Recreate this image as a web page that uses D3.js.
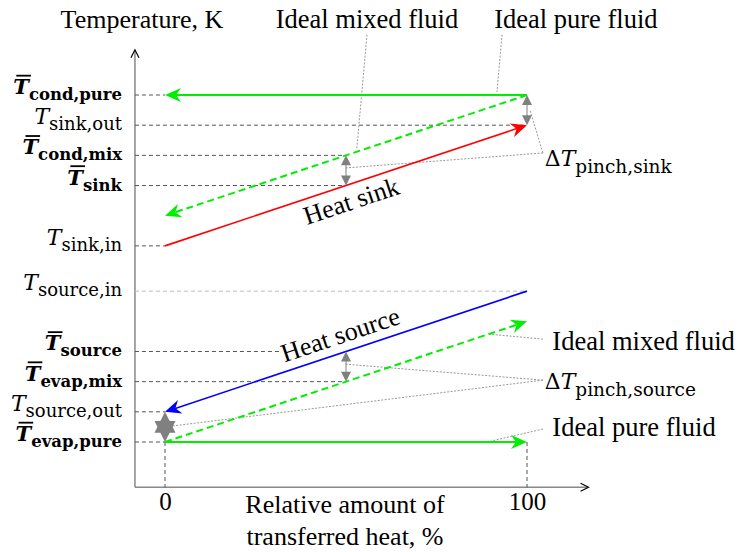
<!DOCTYPE html>
<html>
<head>
<meta charset="utf-8">
<script src="https://cdn.jsdelivr.net/npm/d3@7"></script>
<style>
  body { margin: 0; background: #fff; }
  text { font-family: "Liberation Serif", "Times New Roman", serif; fill: #000; }
  .math { font-family: "DejaVu Serif", serif; }
</style>
</head>
<body>
<div class="chart"></div>
<script>
// temperature levels on the T axis (arbitrary units, sketch only)
const levelSubs = ["cond,pure", "sink,out", "cond,mix", "sink", "sink,in",
                   "source,in", "source", "evap,mix", "source,out", "evap,pure"];
const levelMean = [true, false, true, true, false, false, true, true, false, true];
const levelTemps = [10, 9, 8, 7, 5, 3.5, 1.5, 0.5, -0.5, -1.5];
// how far (heat, %) the dashed guide of each level runs
const guideHeat = [0, 100, 50, 50, 0, 100, 32, 50, 0, 0];

// streams, from start to end (arrow at the end)
const streamNames = ["cond pure", "cond mixed", "Heat sink", "Heat source", "evap mixed", "evap pure"];
const streamHeat0 = [100, 100, 0, 100, 0, 0];
const streamT0 = [10, 10, 5, 3.5, -1.5, -1.5];
const streamHeat1 = [0, 0, 100, 0, 100, 100];
const streamT1 = [10, 6, 9, -0.5, 2.5, -1.5];

// pinch points
const pinchHeat = [50, 100, 50, 0];
const pinchTop = [8, 10, 1.5, -0.5];
const pinchBottom = [7, 9, 0.5, -1.5];

const xTicks = [0, 100];

(function() {
  let svg = d3.select('.chart').append('svg')
    .attr('width', 739)
    .attr('height', 552);

  let x = d3.scaleLinear().domain([0, 100]).range([165, 527]);
  let y = d3.scaleLinear().domain([-1.5, 10]).range([442, 95]);

  let streamStyle = {
    "cond pure":   { color: '#00ee00', width: 2, dash: null },
    "cond mixed":  { color: '#00ee00', width: 2, dash: '7,4' },
    "Heat sink":   { color: '#ff0000', width: 1.6, dash: null },
    "Heat source": { color: '#0000ff', width: 1.6, dash: null },
    "evap mixed":  { color: '#00ee00', width: 2, dash: '7,4' },
    "evap pure":   { color: '#00ee00', width: 2, dash: null }
  };

  // ---- axes ----
  let axisColor = '#888';
  svg.append('line')
    .attr('x1', x(-8.3)).attr('y1', y(-3))
    .attr('x2', x(-8.3)).attr('y2', y(11.5) + 1)
    .attr('stroke', axisColor).attr('stroke-width', 1.5);
  svg.append('line')
    .attr('x1', x(-8.3)).attr('y1', y(-3))
    .attr('x2', x(117) - 1).attr('y2', y(-3))
    .attr('stroke', axisColor).attr('stroke-width', 1.5);
  // open arrow heads
  svg.append('path')
    .attr('d', `M${x(-8.3) - 4},${y(11.5) + 8}L${x(-8.3)},${y(11.5)}L${x(-8.3) + 4},${y(11.5) + 8}`)
    .attr('fill', 'none').attr('stroke', '#000').attr('stroke-width', 1.2);
  svg.append('path')
    .attr('d', `M${x(117) - 8},${y(-3) - 4}L${x(117)},${y(-3)}L${x(117) - 8},${y(-3) + 4}`)
    .attr('fill', 'none').attr('stroke', '#000').attr('stroke-width', 1.2);

  let xAxis = d3.axisBottom(x).tickValues(xTicks).tickSize(0).tickPadding(5);
  let gx = svg.append('g')
    .attr('transform', `translate(0, ${y(-3)})`)
    .call(xAxis);
  gx.select('.domain').remove();
  gx.selectAll('text')
    .attr('font-family', '"Liberation Serif", serif')
    .attr('font-size', 25)
    .attr('fill', '#000');

  svg.append('text')
    .attr('x', 142).attr('y', 28)
    .attr('text-anchor', 'middle')
    .attr('font-size', 26)
    .text('Temperature, K');

  svg.append('text')
    .attr('x', 345).attr('y', 513)
    .attr('text-anchor', 'middle')
    .attr('font-size', 26)
    .text('Relative amount of');
  svg.append('text')
    .attr('x', 345).attr('y', 545)
    .attr('text-anchor', 'middle')
    .attr('font-size', 26)
    .text('transferred heat, %');

  // ---- dashed guides ----
  levelTemps.forEach(function(t, i) {
    svg.append('line')
      .attr('x1', x(-8.3)).attr('y1', y(t))
      .attr('x2', x(guideHeat[i])).attr('y2', y(t))
      .attr('stroke', levelSubs[i] === 'source,in' ? '#bbb' : '#555')
      .attr('stroke-width', 1)
      .attr('stroke-dasharray', '4,3');
  });
  xTicks.forEach(function(h) {
    svg.append('line')
      .attr('x1', x(h)).attr('y1', y(-1.5))
      .attr('x2', x(h)).attr('y2', y(-3))
      .attr('stroke', '#555').attr('stroke-width', 1)
      .attr('stroke-dasharray', '4,3');
  });

  // ---- leader lines (annotation layout in data units) ----
  let leaders = [
    [[55.8, 12.0], [53, 8.24]],
    [[93.1, 12.0], [91.7, 10.1]],
    [[104.4, 8.08], [49.7, 7.58]],
    [[104.4, 8.08], [100.8, 9.5]],
    [[104.4, 1.91], [89, 2.08]],
    [[104.4, 0.55], [49.7, 1.08]],
    [[104.4, 0.55], [0, -1.0]],
    [[104.4, -1.07], [89, -1.5]]
  ];
  leaders.forEach(function(l) {
    svg.append('line')
      .attr('x1', x(l[0][0])).attr('y1', y(l[0][1]))
      .attr('x2', x(l[1][0])).attr('y2', y(l[1][1]))
      .attr('stroke', '#999').attr('stroke-width', 1)
      .attr('stroke-dasharray', '2,1.5');
  });

  // ---- streams with stealth arrow heads ----
  function stealth(px, py, angle, color) {
    svg.append('path')
      .attr('d', 'M0,0L-16,-7L-11,0L-16,7Z')
      .attr('transform', `translate(${px},${py}) rotate(${angle})`)
      .attr('fill', color);
  }

  streamNames.forEach(function(name, i) {
    let st = streamStyle[name];
    let x0 = x(streamHeat0[i]), y0 = y(streamT0[i]);
    let x1 = x(streamHeat1[i]), y1 = y(streamT1[i]);
    let len = Math.hypot(x1 - x0, y1 - y0);
    let ux = (x1 - x0) / len, uy = (y1 - y0) / len;
    let line = svg.append('line')
      .attr('x1', x0).attr('y1', y0)
      .attr('x2', x1 - ux * 10).attr('y2', y1 - uy * 10)
      .attr('stroke', st.color)
      .attr('stroke-width', st.width);
    if (st.dash) line.attr('stroke-dasharray', st.dash);
    stealth(x1, y1, Math.atan2(uy, ux) * 180 / Math.PI, st.color);
  });

  // ---- pinch arrows ----
  pinchHeat.forEach(function(h, i) {
    let px = x(h), yt = y(pinchTop[i]), yb = y(pinchBottom[i]);
    let big = h === 0;  // collapsed pinch at 0 % is drawn as a star
    let len = big ? 21 : 10, hw = big ? 10.5 : 5;
    svg.append('line')
      .attr('x1', px).attr('y1', yt + 2)
      .attr('x2', px).attr('y2', yb - 2)
      .attr('stroke', '#808080').attr('stroke-width', 1);
    svg.append('path')
      .attr('d', `M${px},${yt}L${px - hw},${yt + len}L${px + hw},${yt + len}Z`)
      .attr('fill', '#808080');
    svg.append('path')
      .attr('d', `M${px},${yb}L${px - hw},${yb - len}L${px + hw},${yb - len}Z`)
      .attr('fill', '#808080');
  });

  // ---- rotated stream labels ----
  function alongLabel(i, txt, offset) {
    let x0 = x(streamHeat0[i]), y0 = y(streamT0[i]);
    let x1 = x(streamHeat1[i]), y1 = y(streamT1[i]);
    let ang = Math.atan2(y1 - y0, x1 - x0) * 180 / Math.PI;
    if (ang > 90 || ang < -90) ang += 180;
    let mx = x(50), my = y0 + (y1 - y0) * ((50 - streamHeat0[i]) / (streamHeat1[i] - streamHeat0[i]));
    svg.append('text')
      .attr('transform', `translate(${mx},${my}) rotate(${ang})`)
      .attr('x', 0).attr('y', offset)
      .attr('text-anchor', 'middle')
      .attr('font-size', 26)
      .text(txt);
  }
  alongLabel(2, 'Heat sink', 25);
  alongLabel(3, 'Heat source', -9);

  // ---- T axis labels ----
  levelTemps.forEach(function(t, i) {
    let mean = levelMean[i];
    let tSize = mean ? 21 : 22;
    let base = y(t) - 1;
    let txt = svg.append('text')
      .attr('class', 'math')
      .attr('x', 122).attr('y', base)
      .attr('text-anchor', 'end');
    txt.append('tspan')
      .attr('font-size', tSize)
      .attr('font-style', 'italic')
      .attr('font-weight', mean ? 'bold' : 'normal')
      .text('T');
    txt.append('tspan')
      .attr('font-size', mean ? 16.5 : 18)
      .attr('dy', 6)
      .attr('font-weight', mean ? 'bold' : 'normal')
      .text(levelSubs[i]);
    if (mean) {
      // bar over the T (mean value)
      let n = txt.node();
      let s = n.getStartPositionOfChar(0), e = n.getEndPositionOfChar(0);
      let by = base - tSize * 0.73 - 3;
      svg.append('line')
        .attr('x1', s.x + 3).attr('x2', e.x + 2)
        .attr('y1', by).attr('y2', by)
        .attr('stroke', '#000').attr('stroke-width', 1.8);
    }
  });

  // ---- callout labels ----
  function deltaLabel(px, py, sub) {
    let txt = svg.append('text')
      .attr('class', 'math')
      .attr('x', px).attr('y', py);
    txt.append('tspan').attr('font-size', 22).text('\u0394');
    txt.append('tspan').attr('font-size', 22).attr('font-style', 'italic').text('T');
    txt.append('tspan').attr('font-size', 18.5).attr('dy', 7).text(sub);
  }

  svg.append('text').attr('x', x(55.8)).attr('y', 28)
    .attr('text-anchor', 'middle').attr('font-size', 26.5).text('Ideal mixed fluid');
  svg.append('text').attr('x', x(113.5)).attr('y', 28)
    .attr('text-anchor', 'middle').attr('font-size', 26.5).text('Ideal pure fluid');
  deltaLabel(x(104.9), 166, 'pinch,sink');
  svg.append('text').attr('x', x(107)).attr('y', 350)
    .attr('font-size', 26.5).text('Ideal mixed fluid');
  deltaLabel(x(104.9), 389, 'pinch,source');
  svg.append('text').attr('x', x(107)).attr('y', 436)
    .attr('font-size', 26.5).text('Ideal pure fluid');
})();
</script>
</body>
</html>
